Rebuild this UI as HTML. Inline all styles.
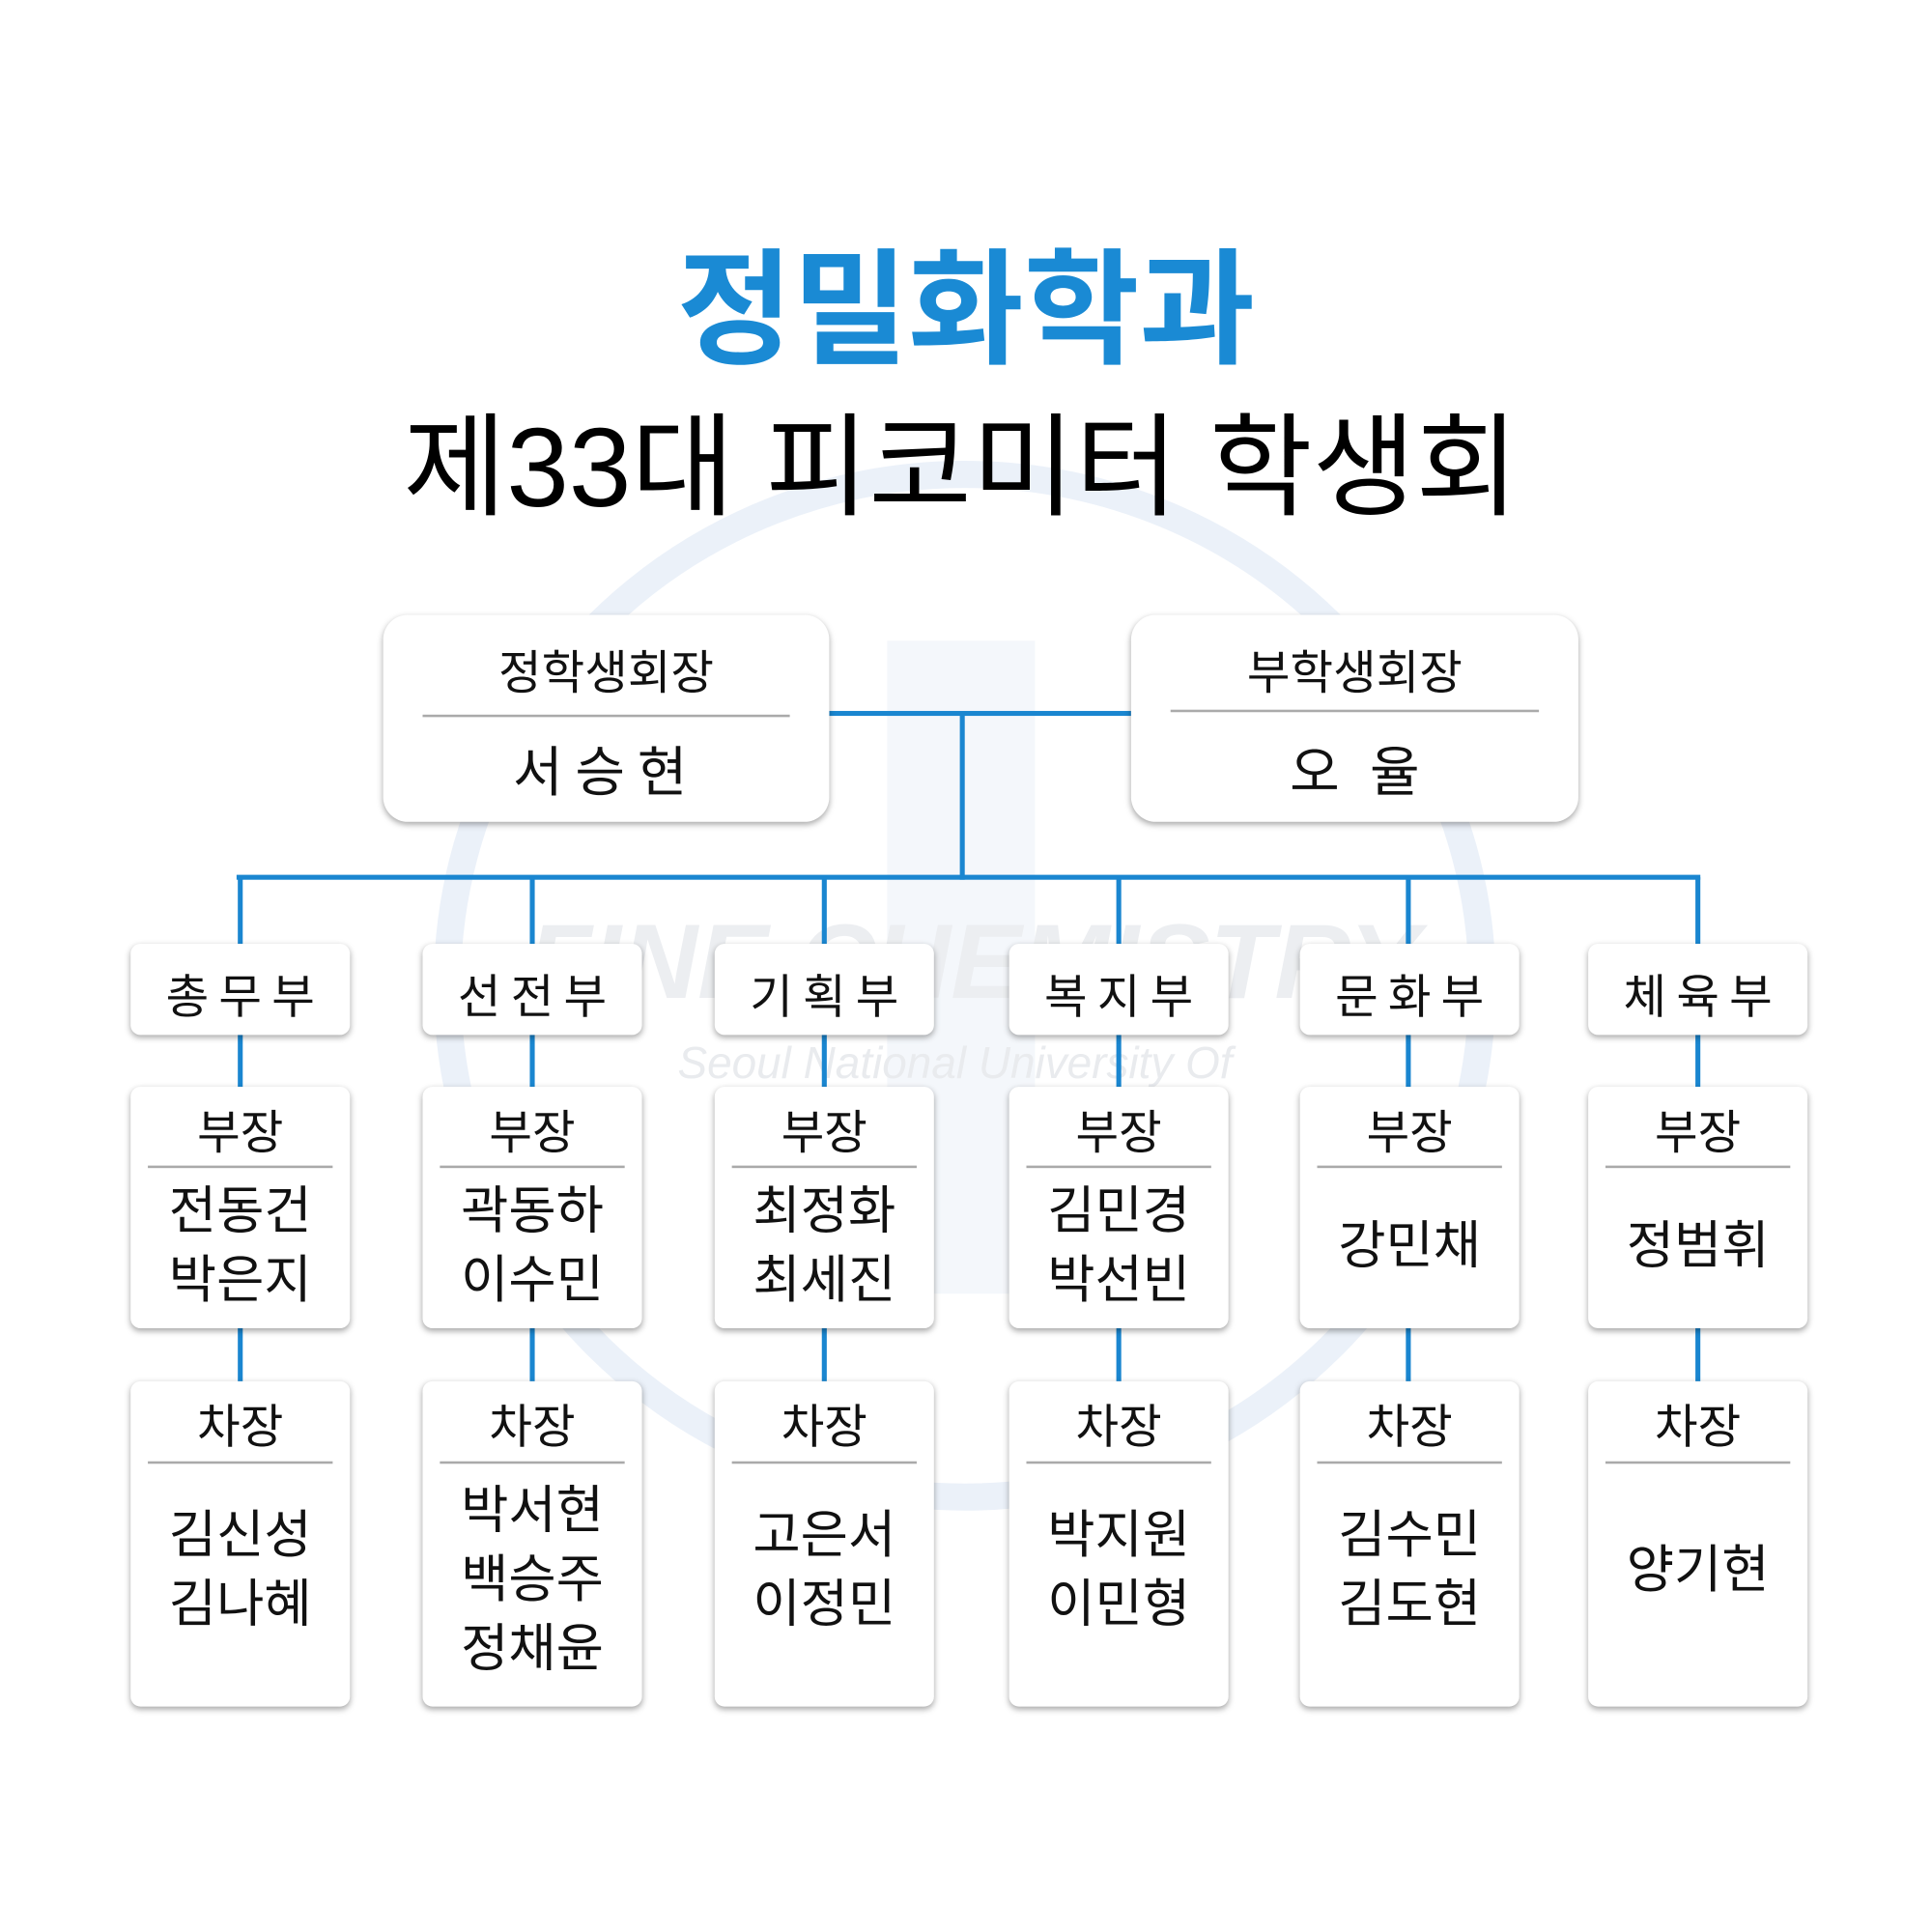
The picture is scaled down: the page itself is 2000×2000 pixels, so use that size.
<!DOCTYPE html>
<html><head><meta charset="utf-8"><style>
html,body{margin:0;padding:0;background:#fff;width:2000px;height:2000px;overflow:hidden}
#w{position:absolute;left:0;top:0;width:1568px;height:1568px;transform:scale(1.2755);transform-origin:0 0;font-family:"Liberation Sans","Noto Sans CJK KR",sans-serif;color:#111}
.a{position:absolute}
.t{position:absolute;left:0;width:100%;text-align:center;white-space:nowrap}
.box{position:absolute;background:#fff;border-radius:12px;box-shadow:0 2px 5px rgba(0,0,0,.35)}
.ln{position:absolute;background:#1a86d0}
.dv{position:absolute;height:1.5px;background:#aaa}
</style></head><body><div id="w">
<svg class="a" style="left:0;top:0" width="1568" height="1568">
<ellipse cx="783" cy="800" rx="420" ry="415" fill="none" stroke="#ebf1f9" stroke-width="22"/>
<rect x="720" y="520" width="120" height="530" fill="#f4f7fb"/>
<text x="790" y="810" text-anchor="middle" font-family="Liberation Sans" font-weight="bold" font-style="italic" font-size="86" fill="#eceef1">FINE CHEMISTRY</text>
<text x="775" y="875" text-anchor="middle" font-family="Liberation Sans" font-style="italic" font-size="36" fill="#e9ebee">Seoul National University Of</text>
</svg>
<div class="t" style="top:170px;font-size:102px;font-weight:bold;color:#1a8ad4;left:0px">정밀화학과</div>
<div class="t" style="top:306px;font-size:91px;color:#000;left:-4px">제33대 피코미터 학생회</div>

<div class="ln" style="left:673px;top:577px;width:245px;height:4px"></div>
<div class="ln" style="left:779px;top:579px;width:4px;height:135px"></div>
<div class="ln" style="left:192px;top:710px;width:1188px;height:4px"></div>
<div class="ln" style="left:193px;top:712px;width:4px;height:672px"></div>
<div class="ln" style="left:430px;top:712px;width:4px;height:672px"></div>
<div class="ln" style="left:667px;top:712px;width:4px;height:672px"></div>
<div class="ln" style="left:906px;top:712px;width:4px;height:672px"></div>
<div class="ln" style="left:1141px;top:712px;width:4px;height:672px"></div>
<div class="ln" style="left:1376px;top:712px;width:4px;height:672px"></div>

<div class="box" style="left:311px;top:499px;width:362px;height:168px;border-radius:20px">
<div class="t" style="top:16px;font-size:38px">정학생회장</div>
<div class="dv" style="left:32px;width:298px;top:81px"></div>
<div class="t" style="top:92px;font-size:44px;letter-spacing:10px">서승현</div>
</div>
<div class="box" style="left:918px;top:499px;width:363px;height:168px;border-radius:20px">
<div class="t" style="top:16px;font-size:38px">부학생회장</div>
<div class="dv" style="left:32px;width:299px;top:77px"></div>
<div class="t" style="top:92px;font-size:44px">오&nbsp;&nbsp;율</div>
</div>

<div id="cols"></div>
<script>
var xs=[106,343,580,819,1055,1289];
var dep=["총무부","선전부","기획부","복지부","문화부","체육부"];
var bu=[["전동건","박은지"],["곽동하","이수민"],["최정화","최세진"],["김민경","박선빈"],["강민채"],["정범휘"]];
var ch=[["김신성","김나혜"],["박서현","백승주","정채윤"],["고은서","이정민"],["박지원","이민형"],["김수민","김도현"],["양기현"]];
var h="";
function names(arr,top,h0){var lh=56;var st=top+(h0-arr.length*lh)/2;if(arr.length==3)st+=8;var s="";arr.forEach(function(n,i){s+='<div class="t" style="top:'+(st+i*lh-2)+'px;font-size:42px;line-height:56px">'+n+'</div>';});return s;}
for(var i=0;i<6;i++){var x=xs[i];
h+='<div class="box" style="left:'+x+'px;top:766px;width:178px;height:74px;border-radius:8px"><div class="t" style="top:12px;font-size:38px;letter-spacing:8px;padding-left:8px;box-sizing:border-box">'+dep[i]+'</div></div>';
h+='<div class="box" style="left:'+x+'px;top:882px;width:178px;height:196px;border-radius:8px"><div class="t" style="top:6px;font-size:38px">부장</div><div class="dv" style="left:14px;width:150px;top:64px"></div>'+names(bu[i],66,130)+'</div>';
h+='<div class="box" style="left:'+x+'px;top:1121px;width:178px;height:264px;border-radius:8px"><div class="t" style="top:6px;font-size:38px">차장</div><div class="dv" style="left:14px;width:150px;top:65px"></div>'+names(ch[i],66,178)+'</div>';}
document.getElementById("cols").innerHTML=h;
</script>
</div></body></html>
